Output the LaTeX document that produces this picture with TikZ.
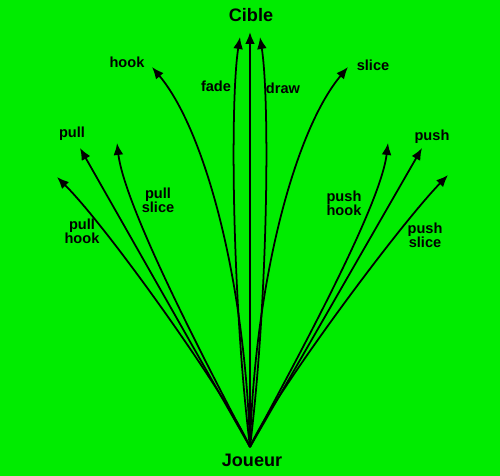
\documentclass[tikz,border=0pt]{standalone}
\usepackage{fontspec}
\setmainfont{Liberation Sans}
\usetikzlibrary{arrows.meta}
\definecolor{fairway}{RGB}{0,236,0}
\tikzset{
  shot/.style={line width=1pt, -{Latex[length=6.8pt,width=5.6pt]}},
  lbl/.style={font=\bfseries\fontsize{8.3}{8}\selectfont, align=center, inner sep=0pt},
  endlbl/.style={font=\bfseries\fontsize{10.3}{12}\selectfont, inner sep=0pt}
}
\begin{document}
\begin{tikzpicture}[x=0.02cm, y=-0.02cm]
\fill[fairway] (0,0) rectangle (500,476);
\useasboundingbox (0,0) rectangle (500,476);

\coordinate (tee) at (250,447);
\coordinate (straight) at (250,32);
\coordinate (fade) at (240,37);
\coordinate (draw) at (260,37);
\coordinate (hook) at (152,67);
\coordinate (slice) at (348,67);
\coordinate (pull) at (80,148);
\coordinate (pullslice) at (117,143);
\coordinate (pullhook) at (57,177);
\coordinate (push) at (422,148);
\coordinate (pushhook) at (388,143);
\coordinate (pushslice) at (448,175);

% the eleven flights
\draw[shot, line width=1.2pt] (tee) -- (straight);
\draw[shot] (tee) .. controls (232,300) and (230,100) .. (fade);
\draw[shot] (tee) .. controls (268,300) and (270,100) .. (draw);
\draw[shot] (tee) .. controls (245,280) and (205,130) .. (hook);
\draw[shot] (tee) .. controls (255,280) and (295,130) .. (slice);
\draw[shot] (tee) -- (pull);
\draw[shot] (tee) .. controls (215,380) and (125,210) .. (pullslice);
\draw[shot] (tee) .. controls (230,400) and (110,230) .. (pullhook);
\draw[shot] (tee) -- (push);
\draw[shot] (tee) .. controls (285,380) and (380,210) .. (pushhook);
\draw[shot] (tee) .. controls (270,400) and (395,230) .. (pushslice);

\node[endlbl] (cible) at (251,15) {Cible};
\node[endlbl] (joueur) at (252,460) {Joueur};
\node[lbl] (l-hook) at (127,62) {hook};
\node[lbl] (l-fade) at (216,86) {fade};
\node[lbl] (l-draw) at (283,88) {draw};
\node[lbl] (l-slice) at (373,65) {slice};
\node[lbl] (l-pull) at (72,134) {pull};
\node[lbl] (l-pullslice) at (158,200) {pull\\slice};
\node[lbl] (l-pullhook) at (82,231) {pull\\hook};
\node[lbl] (l-push) at (432,137) {push};
\node[lbl] (l-pushhook) at (344,203) {push\\hook};
\node[lbl] (l-pushslice) at (425,235) {push\\slice};
\end{tikzpicture}
\end{document}
